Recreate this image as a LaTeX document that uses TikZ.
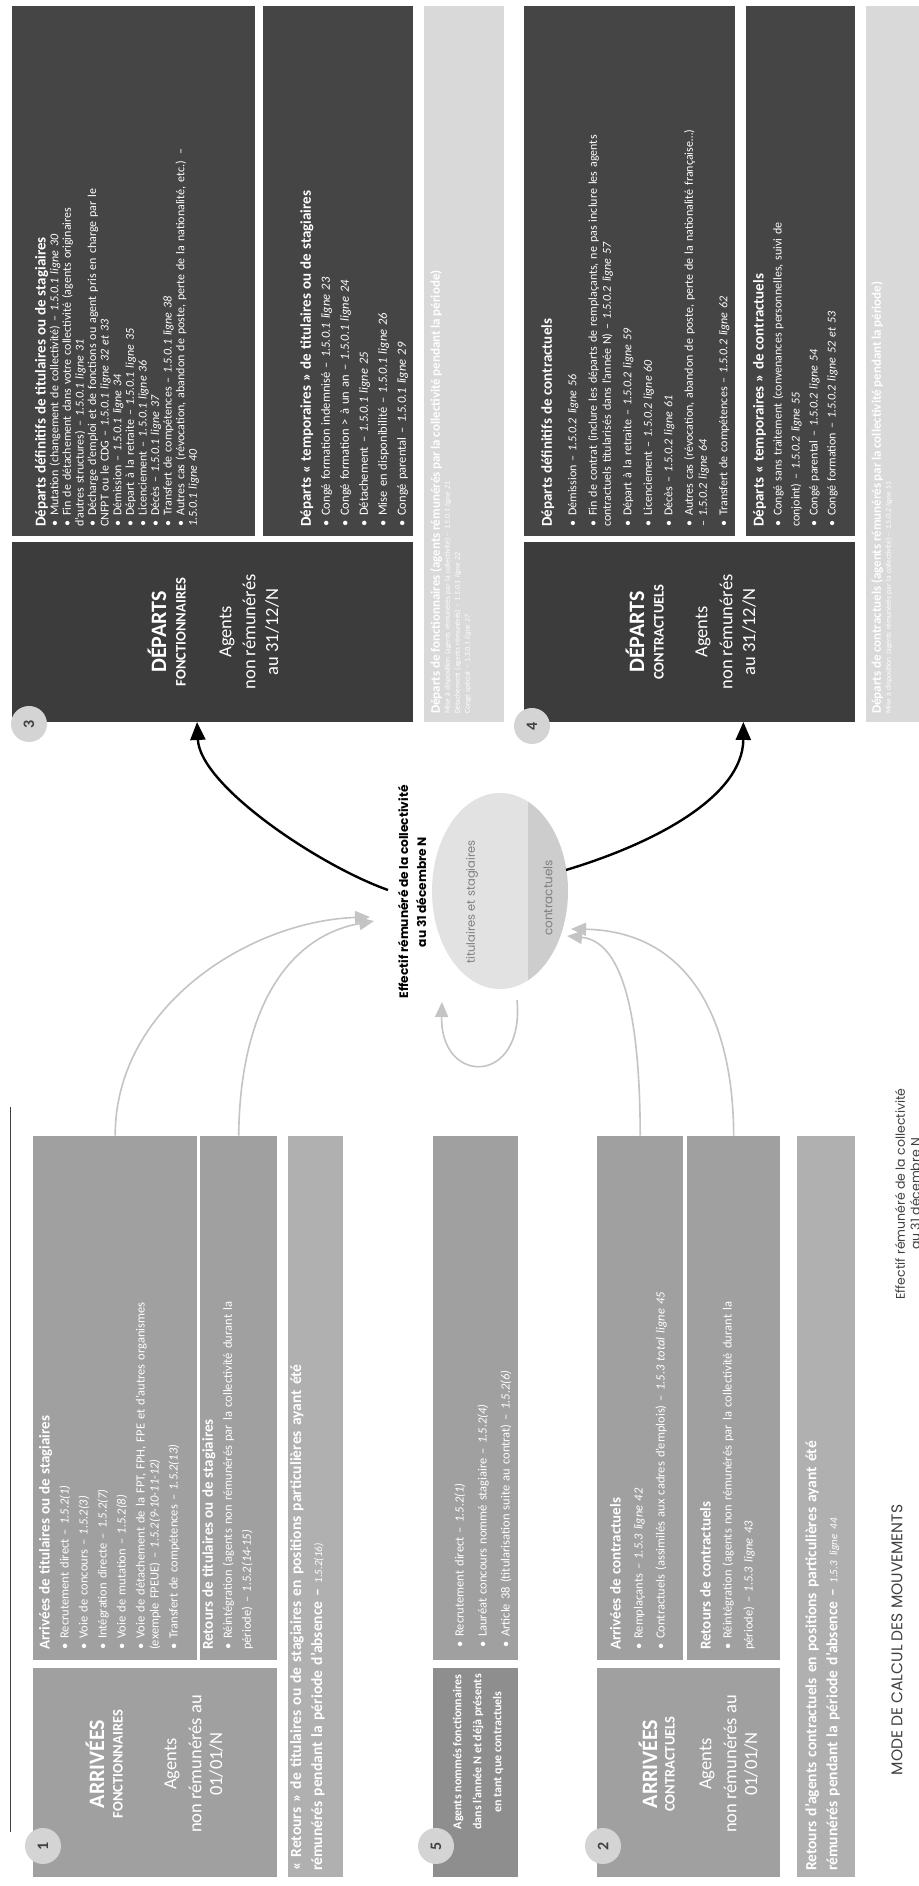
\documentclass[tikz,border=0pt]{standalone}
\usepackage{fontspec}
\setmainfont{Carlito}
\newfontfamily\goth{Poppins}
\usetikzlibrary{arrows.meta,shapes.geometric,calc}
\definecolor{dk}{HTML}{3C3C3C}
\definecolor{dk2}{HTML}{454545}
\definecolor{md}{HTML}{A0A0A0}
\definecolor{md2}{HTML}{B0B0B0}
\definecolor{md3}{HTML}{8E8E8E}
\definecolor{fd}{HTML}{D9D9D9}
\definecolor{circ}{HTML}{D4D4D4}
\definecolor{elA}{HTML}{E2E2E2}
\definecolor{elB}{HTML}{CDCDCD}
\definecolor{arr}{HTML}{C4C4C4}
\definecolor{ttl}{HTML}{404040}
\newlength\itmskip
\newcommand\bx[6]{\node[fill=#6,anchor=north west,minimum width=#4pt,minimum height=#5pt,inner sep=0pt] (#1) at (#2,#3) {};}
\newcommand\itm{\par\vskip\itmskip\hangindent=11pt\hangafter=1\noindent\makebox[11pt][l]{\textbullet}}
\newcommand\hd[1]{{\fontsize{15}{19}\selectfont\bfseries #1\par}}
\newcommand\hdb[1]{{\fontsize{13}{16}\selectfont\bfseries #1\par}}
\newcommand\mybig[1]{\fontsize{22}{24}\selectfont\bfseries #1}
\newcommand\mycap[1]{\fontsize{14.5}{16}\selectfont\bfseries #1}
\newcommand\myag[1]{\fontsize{18.5}{21}\selectfont #1}
\tikzset{
  txt/.style={anchor=north west,inner sep=0pt,align=left,text=white},
  ln/.style={text=white,inner sep=0pt},
  numc/.style={circle,fill=circ,minimum size=36pt,inner sep=0pt,text=ttl,font=\fontsize{16}{16}\selectfont\bfseries},
  blk/.style={draw=black,line width=2.4pt,-{Triangle[length=18pt,width=15pt]}},
  gry/.style={draw=arr,line width=1.6pt,-{Triangle[length=15pt,width=13pt]}}
}
\begin{document}
\begin{tikzpicture}
\begin{scope}[rotate=90,transform shape,x=1pt,y=-1pt]
\fill[white] (0,0) rectangle (1886,918);
\useasboundingbox (0,0) rectangle (1886,918);
\draw[ttl,line width=0.8pt] (54,10) -- (779,10);
% ---------------- DEPARTS FONCTIONNAIRES
\bx{d3}{1164}{12}{180}{401}{dk}
\bx{d3def}{1350}{12}{530}{243}{dk2}
\bx{d3tmp}{1350}{263}{530}{150}{dk2}
\bx{d3fad}{1164}{424}{716}{80}{fd}
\node[numc] (c3) at (1162,29) {3};
\node[ln] (d3a) at (1254,157) {\mybig{DÉPARTS}};
\node[ln] (d3b) at (1254,181) {\mycap{FONCTIONNAIRES}};
\node[ln] (d3c) at (1254,227) {\myag{Agents}};
\node[ln] (d3d) at (1254,249) {\myag{non rémunérés}};
\node[ln] (d3e) at (1254,272) {\myag{au 31/12/N}};
\node[txt,text width=520pt,font=\fontsize{12}{12.6}\selectfont] (d3defT) at (1359,35) {\setlength\itmskip{0pt}\hd{Départs définitifs de titulaires ou de stagiaires}
\itm Mutation (changement de collectivité) – \textit{1.5.0.1 ligne 30}
\itm Fin de détachement dans votre collectivité (agents originaires\\d'autres structures) – \textit{1.5.0.1 ligne 31}
\itm Décharge d'emploi et de fonctions ou agent pris en charge par le\\CNFPT ou le CDG – \textit{1.5.0.1 ligne 32 et 33}
\itm Démission – \textit{1.5.0.1 ligne 34}
\itm Départ à la retraite – \textit{1.5.0.1 ligne 35}
\itm Licenciement – \textit{1.5.0.1 ligne 36}
\itm Décès – \textit{1.5.0.1 ligne 37}
\itm Transfert de compétences – \textit{1.5.0.1 ligne 38}
\itm Autres cas (révocation, abandon de poste, perte de la nationalité, etc.) –\\\textit{1.5.0.1 ligne 40}\par};
\node[txt,text width=520pt,font=\fontsize{12.5}{19}\selectfont] (d3tmpT) at (1359,300) {\setlength\itmskip{0pt}\hd{Départs « temporaires » de titulaires ou de stagiaires}
\itm Congé formation indemnisé – \textit{1.5.0.1 ligne 23}
\itm Congé formation > à un an – \textit{1.5.0.1 ligne 24}
\itm Détachement – \textit{1.5.0.1 ligne 25}
\itm Mise en disponibilité – \textit{1.5.0.1 ligne 26}
\itm Congé parental – \textit{1.5.0.1 ligne 29}\par};
\node[txt,text width=700pt,font=\fontsize{7.5}{10}\selectfont] (d3fadT) at (1172,430) {\hdb{Départs de fonctionnaires (agents rémunérés par la collectivité pendant la période)}
Mise à disposition (agents rémunérés par la collectivité) – \textit{1.5.0.1 ligne 21}\par
Détachement (agents rémunérés) – \textit{1.5.0.1 ligne 22}\par
Congé spécial – \textit{1.5.0.1 ligne 27}\par};
% ---------------- DEPARTS CONTRACTUELS
\bx{d4}{1164}{524}{180}{331}{dk}
\bx{d4def}{1350}{524}{530}{211}{dk2}
\bx{d4tmp}{1350}{746}{530}{109}{dk2}
\bx{d4fad}{1164}{866}{716}{60}{fd}
\node[numc] (c4) at (1160,532) {4};
\node[ln] (d4a) at (1254,635) {\mybig{DÉPARTS}};
\node[ln] (d4b) at (1254,659) {\mycap{CONTRACTUELS}};
\node[ln] (d4c) at (1254,703) {\myag{Agents}};
\node[ln] (d4d) at (1254,726) {\myag{non rémunérés}};
\node[ln] (d4e) at (1254,749) {\myag{au 31/12/N}};
\node[txt,text width=520pt,font=\fontsize{12}{14}\selectfont] (d4defT) at (1359,541) {\setlength\itmskip{6.5pt}\hd{Départs définitifs de contractuels}\vskip4pt
\itm Démission – \textit{1.5.0.2 ligne 56}
\itm Fin de contrat (inclure les départs de remplaçants, ne pas inclure les agents\\contractuels titularisés dans l'année N) – \textit{1.5.0.2 ligne 57}
\itm Départ à la retraite – \textit{1.5.0.2 ligne 59}
\itm Licenciement – \textit{1.5.0.2 ligne 60}
\itm Décès – \textit{1.5.0.2 ligne 61}
\itm Autres cas (révocation, abandon de poste, perte de la nationalité française…)\\– \textit{1.5.0.2 ligne 64}
\itm Transfert de compétences – \textit{1.5.0.2 ligne 62}\par};
\node[txt,text width=520pt,font=\fontsize{12}{18}\selectfont] (d4tmpT) at (1359,753) {\setlength\itmskip{0pt}\hd{Départs « temporaires » de contractuels}
\itm Congé sans traitement (convenances personnelles, suivi de\\conjoint) – \textit{1.5.0.2 ligne 55}
\itm Congé parental – \textit{1.5.0.2 ligne 54}
\itm Congé formation – \textit{1.5.0.2 ligne 52 et 53}\par};
\node[txt,text width=700pt,font=\fontsize{7.5}{10}\selectfont] (d4fadT) at (1172,871) {\hdb{Départs de contractuels (agents rémunérés par la collectivité pendant la période)}
Mise à disposition (agents rémunérés par la collectivité) – \textit{1.5.0.2 ligne 51}\par};
% ---------------- ARRIVEES FONCTIONNAIRES
\bx{a1}{9}{33}{209}{244}{md}
\bx{a1list}{226}{33}{524}{164}{md}
\bx{a1ret}{226}{200}{524}{77}{md}
\bx{a1part}{9}{288}{741}{55}{md2}
\node[numc] (c1) at (40,43) {1};
\node[ln] (a1a) at (122,95) {\mybig{ARRIVÉES}};
\node[ln] (a1b) at (122,118) {\mycap{FONCTIONNAIRES}};
\node[ln] (a1c) at (122,172) {\myag{Agents}};
\node[ln] (a1d) at (122,195) {\myag{non rémunérés au}};
\node[ln] (a1e) at (122,216) {\myag{01/01/N}};
\node[txt,text width=515pt,font=\fontsize{12.5}{14}\selectfont] (a1listT) at (236,39) {\setlength\itmskip{5pt}\hd{Arrivées de titulaires ou de stagiaires}
\itm Recrutement direct – \textit{1.5.2(1)}
\itm Voie de concours – \textit{1.5.2(3)}
\itm Intégration directe – \textit{1.5.2(7)}
\itm Voie de mutation – \textit{1.5.2(8)}
\itm Voie de détachement de la FPT, FPH, FPE et d'autres organismes\\(exemple FPEUE) – \textit{1.5.2(9-10-11-12)}
\itm Transfert de compétences – \textit{1.5.2(13)}\par};
\node[txt,text width=515pt,font=\fontsize{12.5}{19}\selectfont] (a1retT) at (236,202) {\setlength\itmskip{0pt}\hd{Retours de titulaires ou de stagiaires}
\itm Réintégration (agents non rémunérés par la collectivité durant la\\période) – \textit{1.5.2(14-15)}\par};
\node[txt,text width=735pt,font=\fontsize{15.5}{21}\selectfont\bfseries] (a1partT) at (15,290) {« Retours » de titulaires ou de stagiaires en positions particulières ayant été\\rémunérés pendant la période d'absence – {\mdseries\fontsize{11}{11}\selectfont\textit{1.5.2(16)}}};
% ---------------- BLOC 5
\bx{b5}{9}{433}{209}{85}{md3}
\bx{b5list}{226}{433}{524}{85}{md}
\node[numc] (c5) at (40,436) {5};
\node[ln,align=center,font=\fontsize{12}{20}\selectfont\bfseries] (b5t) at (134,478) {Agents nommés fonctionnaires\\dans l'année N et déjà présents\\en tant que contractuels};
\node[txt,text width=515pt,font=\fontsize{12.5}{23}\selectfont,anchor=west] (b5listT) at (238,476) {\setlength\itmskip{0pt}\itm Recrutement direct – \textit{1.5.2(1)}
\itm Lauréat concours nommé stagiaire – \textit{1.5.2(4)}
\itm Article 38 (titularisation suite au contrat) – \textit{1.5.2(6)}\par};
% ---------------- ARRIVEES CONTRACTUELS
\bx{a2}{9}{597}{209}{183}{md}
\bx{a2list}{226}{597}{524}{86}{md}
\bx{a2ret}{226}{687}{524}{93}{md}
\bx{a2part}{9}{797}{741}{58}{md2}
\node[numc] (c2) at (40,603) {2};
\node[ln] (a2a) at (122,648) {\mybig{ARRIVÉES}};
\node[ln] (a2b) at (122,670) {\mycap{CONTRACTUELS}};
\node[ln] (a2c) at (122,707) {\myag{Agents}};
\node[ln] (a2d) at (122,730) {\myag{non rémunérés au}};
\node[ln] (a2e) at (122,751) {\myag{01/01/N}};
\node[txt,text width=515pt,font=\fontsize{12.5}{22}\selectfont] (a2listT) at (236,610) {\setlength\itmskip{0pt}\hd{Arrivées de contractuels}
\itm Remplaçants – \textit{1.5.3 ligne 42}
\itm Contractuels (assimilés aux cadres d'emplois) – \textit{1.5.3 total ligne 45}\par};
\node[txt,text width=515pt,font=\fontsize{12.5}{21}\selectfont] (a2retT) at (236,700) {\setlength\itmskip{0pt}\hd{Retours de contractuels}
\itm Réintégration (agents non rémunérés par la collectivité durant la\\période) – \textit{1.5.3 ligne 43}\par};
\node[txt,text width=735pt,font=\fontsize{15.5}{21}\selectfont\bfseries] (a2partT) at (15,805) {Retours d'agents contractuels en positions particulières ayant été\\rémunérés pendant la période d'absence – {\mdseries\fontsize{11}{11}\selectfont\textit{1.5.3 ligne 44}}};
% ---------------- FOOTER
\node[text=ttl,font=\goth\fontsize{15.5}{18}\selectfont,inner sep=0pt] (title) at (246,897) {MODE DE CALCUL DES MOUVEMENTS};
\node[text=ttl,font=\goth\fontsize{12.5}{15}\selectfont,inner sep=0pt,align=center,anchor=north] (capt) at (692,895) {Effectif rémunéré de la collectivité\\au 31 décembre N};
% ---------------- CENTRE
\begin{scope}
\clip (995,500) ellipse [x radius=98pt,y radius=68pt];
\fill[elA] (890,425) rectangle (1100,528);
\fill[elB] (890,528) rectangle (1100,575);
\end{scope}
\node[ellipse,minimum width=196pt,minimum height=136pt,inner sep=0pt] (ell) at (995,500) {};
\node[text=black,font=\goth\bfseries\fontsize{12.2}{18}\selectfont,align=center,inner sep=0pt] (eff) at (994,412) {Effectif rémunéré de la collectivité\\au 31 décembre N};
\node[text=gray,font=\goth\fontsize{11.5}{14}\selectfont,inner sep=0pt] (tit) at (984,472) {titulaires et stagiaires};
\node[text=gray,font=\goth\fontsize{12}{14}\selectfont,inner sep=0pt] (ctr) at (988,548) {contractuels};
\coordinate (ellT) at (969,370);
\coordinate (ellT2) at (965,374);
\coordinate (ellTs) at (996,388);
\coordinate (ellB) at (1016,566);
\coordinate (ellC) at (950,567);
\coordinate (ellD) at (957,571);
\coordinate (lpA) at (886,517);
\coordinate (lpB) at (884,442);
\coordinate (d3in) at ($(d3.north west)!0.461!(d3.south west)$);
\coordinate (d4in) at ($(d4.north west)!0.662!(d4.south west)$);
\draw[blk] (ellTs) .. controls (1020,320) and (1100,200) .. (d3in);
\draw[blk] (ellB) .. controls (1043,656) and (1090,743) .. (d4in);
\draw[gry] (a1list.east) .. controls (880,115) and (965,250) .. (ellT);
\draw[gry] (a1ret.east) .. controls (880,240) and (950,290) .. (ellT2);
\draw[gry] (a2list.east) .. controls (880,640) and (945,620) .. (ellC);
\draw[gry] (a2ret.east) .. controls (880,733) and (955,680) .. (ellD);
\draw[gry] (lpA) .. controls (800,525) and (800,440) .. (lpB);
\end{scope}
\end{tikzpicture}
\end{document}
